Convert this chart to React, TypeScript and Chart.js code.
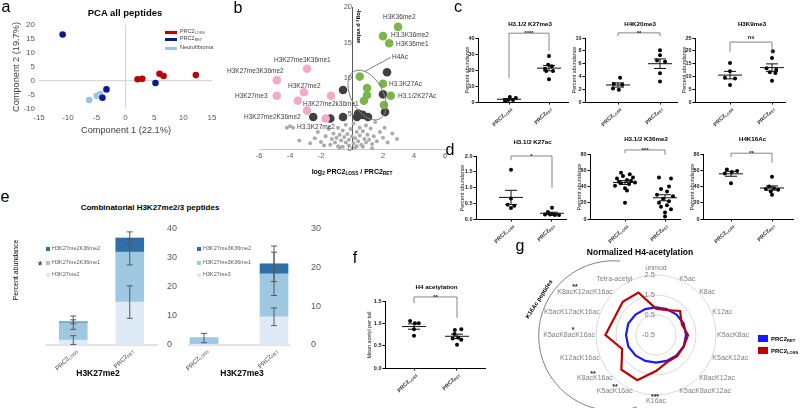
import React, { useEffect, useRef } from 'react';
import { Chart, registerables } from 'chart.js';

Chart.register(...registerables);

const FONT = '"Liberation Sans", Arial, Helvetica, sans-serif';

// ================= DATA =================
// a: PCA all peptides
const pcaLossX = [2.1, 2.9, 5.9, 6.6, 12.2];
const pcaLossY = [0.6, 0.8, 2.6, 1.8, 2.1];
const pcaRetX = [-10.9, -3.3, -4.0, 5.2];
const pcaRetY = [16.6, -3.0, -6.0, -0.7];
const pcaNfX = [-6.3, -5.0, -4.4];
const pcaNfY = [-6.8, -5.3, -4.7];

// b: volcano
const volGreenX = [2.97, 2.0, 2.4, 0.5, 2.0, 0.97, 0.97, 2.5, 0.77, 2.06];
const volGreenY = [17.2, 15.9, 14.9, 10.2, 9.2, 8.6, 7.6, 7.5, 6.8, 6.2];
const volPinkX = [-2.9, -4.85, -4.85, -3.1, -3.5, -1.36, -2.9, -1.7];
const volPinkY = [11.3, 9.7, 7.5, 8.0, 6.8, 7.5, 5.4, 4.3];
const volDarkX = [2.26, -0.58, 2.0, 2.13, -0.58, 0.32, 0.7, 1.03, 0.4, -1.4, -2.5];
const volDarkY = [10.8, 8.3, 7.7, 5.2, 4.5, 4.5, 4.8, 4.5, 5.0, 4.3, 4.5];
const volGreyX = [-4.2, -4.0, -3.8, -3.4, -2.4, -2.2, -2.0, -1.7, -1.5, -1.4, -1.3, -1.2, -1.1, -1.0, -0.9, -0.9, -0.8, -0.7, -0.6, -0.6, -0.5, -0.4, -0.4, -0.3, -0.2, -0.2, -0.1, 0.0, 0.1, 0.1, 0.2, 0.3, 0.3, 0.4, 0.5, 0.5, 0.6, 0.7, 0.8, 0.9, 0.9, 1.0, 1.1, 1.2, 1.3, 1.4, 1.5, 1.6, 1.8, 2.0, 2.1, 2.3, 2.6, 2.9, -1.8, -0.8, 0.2, 0.7, 1.3, -2.7];
const volGreyY = [3.0, 3.2, 3.0, 1.2, 1.5, 2.4, 1.0, 1.8, 2.8, 0.6, 1.4, 2.2, 0.9, 1.6, 3.0, 0.4, 2.0, 1.2, 2.6, 0.3, 1.7, 0.9, 3.4, 2.1, 1.3, 0.5, 2.8, 1.8, 0.8, 3.6, 1.5, 2.4, 0.4, 1.1, 3.0, 1.9, 0.6, 2.5, 1.4, 3.3, 0.9, 2.0, 1.3, 2.9, 0.7, 1.8, 3.8, 1.1, 2.4, 1.6, 3.0, 0.9, 2.2, 1.4, 0.5, 0.2, 0.2, 0.3, 0.1, 0.8];
const volH4AcEllipse = [0.97, 7.6];
const volH4AcLeader = [0.8, 10.9, 2.5, 12.9];

// c/d/f: scatter dot plots (values, horizontal spread in category units)
const groupSubs = ['LOSS', 'RET'];
const k27me3Loss = [0.6, 1.2, 1.2, 3.1, 2.5];
const k27me3LossJit = [-0.1, -0.02, 0.1, 0.02, 0.17];
const k27me3Ret = [28.7, 23.3, 22.3, 20.8, 19.4, 19.4, 14.2];
const k27me3RetJit = [0, -0.02, 0.07, -0.1, 0.1, -0.07, 0];
const k27me3Bracket = [43, 15, 32];
const k20me3Loss = [3.8, 2.8, 2.7, 2.1, 1.9];
const k20me3LossJit = [0.05, -0.1, 0.1, -0.12, 0.02];
const k20me3Ret = [8.1, 7.3, 6.5, 6.3, 4.5, 3.2];
const k20me3RetJit = [0, 0, -0.07, 0.12, 0, 0];
const k20me3Bracket = [10.8, 10.3, 10.3];
const k9me3Loss = [15.2, 12.0, 9.5, 9.2, 6.6];
const k9me3LossJit = [0, 0, -0.12, 0.12, 0];
const k9me3Ret = [19.8, 17.2, 13.2, 12.6, 11.6, 11.3, 8.3];
const k9me3RetJit = [0.02, 0, -0.13, 0.1, -0.05, 0.08, 0];
const k9me3Bracket = [23.4, 19.5, 18.9];
const k27acLoss = [1.56, 0.65, 0.45, 0.42, 0.35];
const k27acLossJit = [0, 0, -0.08, 0.08, 0];
const k27acRet = [0.36, 0.22, 0.16, 0.14, 0.14, 0.13, 0.13];
const k27acRetJit = [0, -0.1, 0, -0.17, -0.05, 0.07, 0.17];
const k27acBracket = [2.0, 1.87, 0.98];
const k36me2Loss = [57, 55, 53, 51, 50, 48, 47, 46, 45, 44, 43, 41, 38, 35, 20];
const k36me2LossJit = [-0.1, 0.12, -0.05, 0.2, -0.2, 0.05, 0.15, -0.15, 0.25, -0.1, 0.1, -0.25, 0, 0.05, 0];
const k36me2Ret = [51, 50, 40, 37, 34, 30, 28, 25, 22, 20, 17, 15, 12, 8, 3];
const k36me2RetJit = [-0.15, 0.15, 0.1, -0.1, 0.05, -0.2, 0.2, -0.05, 0.1, -0.15, 0.05, -0.1, 0.15, 0, 0];
const k36me2Bracket = [85, 81, 79];
const k16acLoss = [61, 59, 58, 56, 44];
const k16acLossJit = [-0.1, 0.15, 0.02, -0.15, 0];
const k16acRet = [52, 40, 38, 37, 36, 34, 30];
const k16acRetJit = [0, -0.07, 0.05, -0.15, 0.15, -0.03, 0];
const k16acBracket = [81, 76, 69];
const h4acLoss = [1.05, 1.0, 1.0, 0.87, 0.72];
const h4acLossJit = [-0.09, 0.02, 0.11, 0, 0];
const h4acRet = [0.87, 0.85, 0.76, 0.68, 0.66, 0.63, 0.52];
const h4acRetJit = [0.1, -0.05, -0.06, 0.03, -0.1, 0.1, 0];
const h4acBracket = [1.59, 1.45, 1.12];

// e: combinatorial stacked bars
const eCats = ['PRC2LOSS', 'PRC2RET'];
const me2Base = [1.7, 14.8];
const me2K36me1 = [6.0, 17.2];
const me2K36me2 = [0.3, 4.9];
const me2BaseErr = [1.5, 5.6];
const me2K36me1Err = [2.3, 4.4];
const me2K36me2Err = [0.7, 2.1];
const me3Base = [0.2, 7.3];
const me3K36me1 = [1.6, 11.1];
const me3K36me2 = [0, 2.6];
const me3BaseErr = [0, 2.3];
const me3K36me1Err = [1.2, 5.6];
const me3K36me2Err = [0, 4.6];

// g: normalized H4 acetylation radar
const h4Sites = ['unmod', 'K5ac', 'K8ac', 'K12ac', 'K5acK8ac', 'K5acK12ac', 'K8acK12ac', 'K5acK8acK12ac', 'K16ac', 'K5acK16ac', 'K8acK16ac', 'K12acK16ac', 'K5acK8acK16ac', 'K5acK12acK16ac', 'K8acK12acK16ac', 'Tetra-acetyl'];
const h4Loss = [0.82, 0.85, 1.2, 0.9, 1.1, 1.0, 1.0, 0.97, 1.3, 1.95, 1.95, 1.33, 2.03, 1.75, 1.85, 1.8];
const h4Ret = [0.88, 0.9, 0.95, 1.0, 1.0, 1.0, 0.95, 0.9, 0.88, 0.9, 0.95, 1.0, 1.0, 1.0, 0.95, 0.9];
const h4Ticks = [-0.5, 0.5, 1.5, 2.5];

// ================= HELPERS =================
const zip = (xs: number[], ys: number[]) => xs.map((x, i) => ({ x, y: ys[i] }));
const mean = (a: number[]) => a.reduce((s, v) => s + v, 0) / a.length;
const sem = (a: number[]) => {
  const m = mean(a);
  return Math.sqrt(a.reduce((s, v) => s + (v - m) ** 2, 0) / (a.length - 1)) / Math.sqrt(a.length);
};
// fix an axis box to an exact size (so the plot area is placed exactly)
const fix = (n: number) => (s: any) => {
  if (s.isHorizontal()) s.height = n; else s.width = n;
  s.paddingLeft = 0; s.paddingRight = 0; s.paddingTop = 0; s.paddingBottom = 0;
};
const baseOptions = (pad: any) => ({
  responsive: false,
  animation: false,
  devicePixelRatio: 1,
  events: [],
  layout: { padding: pad },
  plugins: { legend: { display: false }, tooltip: { enabled: false }, title: { display: false } },
});
const noGrid = { display: false, drawTicks: false };

function drawSub(ctx: any, x: number, y: number, main: string, sub: string, size: number, weight: string, color: string, align: string, angle: number) {
  ctx.save();
  ctx.translate(x, y);
  ctx.rotate(angle);
  const f1 = `${weight} ${size}px ${FONT}`;
  const f2 = `${weight} ${size * 0.68}px ${FONT}`;
  ctx.font = f1; const w1 = ctx.measureText(main).width;
  ctx.font = f2; const w2 = ctx.measureText(sub).width;
  const tw = w1 + w2;
  const x0 = align === 'left' ? 0 : align === 'right' ? -tw : -tw / 2;
  ctx.fillStyle = color; ctx.textAlign = 'left'; ctx.textBaseline = 'middle';
  ctx.font = f1; ctx.fillText(main, x0, 0);
  ctx.font = f2; ctx.fillText(sub, x0 + w1, size * 0.28);
  ctx.restore();
}

function ChartCanvas({ x, y, w, h, make }: any) {
  const ref = useRef<HTMLCanvasElement>(null);
  useEffect(() => {
    const chart = new Chart(ref.current as HTMLCanvasElement, make());
    return () => chart.destroy();
  }, []);
  return <canvas ref={ref} width={w} height={h} style={{ position: 'absolute', left: x, top: y, width: w, height: h }} />;
}

function T({ x, y, s, b, c = '#000', a = 'c', r = 0, children }: any) {
  const tx = a === 'l' ? '0%' : a === 'r' ? '-100%' : '-50%';
  const ox = a === 'l' ? '0%' : a === 'r' ? '100%' : '50%';
  return (
    <div style={{ position: 'absolute', left: x, top: y, transform: `translate(${tx},-50%) rotate(${r}deg)`, transformOrigin: `${ox} 50%`, fontSize: s, fontWeight: b ? 'bold' : 'normal', color: c, whiteSpace: 'nowrap', lineHeight: 1, fontFamily: FONT }}>
      {children}
    </div>
  );
}
const Sb = ({ children }: any) => <span style={{ fontSize: '68%', position: 'relative', top: '0.3em' }}>{children}</span>;
const Box = ({ x, y, w, h, c }: any) => <div style={{ position: 'absolute', left: x, top: y, width: w, height: h, background: c }} />;

// ================= a =================
const RED = '#c00000';
const NAVY = '#0d1a8c';
const LIGHTB = '#9dc3e6';
const zeroGrid = (c: any) => (c.tick && c.tick.value === 0 ? '#d9d9d9' : 'rgba(0,0,0,0)');
const makePca = () => ({
  type: 'scatter',
  data: {
    datasets: [
      { data: zip(pcaLossX, pcaLossY), backgroundColor: RED, pointRadius: 3.3, borderWidth: 0 },
      { data: zip(pcaRetX, pcaRetY), backgroundColor: NAVY, pointRadius: 3.3, borderWidth: 0 },
      { data: zip(pcaNfX, pcaNfY), backgroundColor: LIGHTB, pointRadius: 3.3, borderWidth: 0 },
    ],
  },
  options: {
    ...baseOptions({ left: 0, right: 3, top: 11, bottom: 0 }),
    scales: {
      x: { type: 'linear', min: -15, max: 15, afterFit: fix(25), border: { display: false },
        ticks: { stepSize: 5, autoSkip: false, maxRotation: 0, padding: 4, color: '#595959', font: { family: FONT, size: 8 } },
        grid: { color: zeroGrid, lineWidth: 1.2, drawTicks: false } },
      y: { type: 'linear', min: -10, max: 20, afterFit: fix(39), border: { display: false },
        ticks: { stepSize: 5, autoSkip: false, padding: 4, color: '#595959', font: { family: FONT, size: 8 } },
        grid: { color: zeroGrid, lineWidth: 1.2, drawTicks: false } },
    },
  },
});

// ================= b =================
const volPlugin = {
  id: 'volExtras',
  afterDatasetsDraw(chart: any) {
    const { ctx, scales: { x, y } } = chart;
    ctx.save();
    ctx.strokeStyle = '#808080';
    ctx.lineWidth = 1;
    ctx.beginPath();
    ctx.ellipse(x.getPixelForValue(volH4AcEllipse[0]), y.getPixelForValue(volH4AcEllipse[1]), 16, 27, -0.5, 0, Math.PI * 2);
    ctx.stroke();
    ctx.beginPath();
    ctx.moveTo(x.getPixelForValue(volH4AcLeader[0]), y.getPixelForValue(volH4AcLeader[1]));
    ctx.lineTo(x.getPixelForValue(volH4AcLeader[2]), y.getPixelForValue(volH4AcLeader[3]));
    ctx.stroke();
    ctx.restore();
  },
};
const makeVolcano = () => ({
  type: 'scatter',
  data: {
    datasets: [
      { data: zip(volGreenX, volGreenY), backgroundColor: '#7ab648', pointRadius: 4.3, borderWidth: 0, clip: false },
      { data: zip(volPinkX, volPinkY), backgroundColor: '#f2a9cb', pointRadius: 4.3, borderWidth: 0, clip: false },
      { data: zip(volDarkX, volDarkY), backgroundColor: '#404040', pointRadius: 4.3, borderWidth: 0, clip: false },
      { data: zip(volGreyX, volGreyY), backgroundColor: '#ababab', pointRadius: 2, borderWidth: 0, clip: false },
    ],
  },
  options: {
    ...baseOptions({ left: 37, right: 7, top: 7, bottom: 0 }),
    scales: {
      x: { type: 'linear', min: -6, max: 6, afterFit: fix(51),
        border: { display: true, color: '#c8c8c8', width: 1 },
        ticks: { stepSize: 2, autoSkip: false, maxRotation: 0, padding: 2, color: '#595959', font: { family: FONT, size: 7.5 }, callback: (v: any) => (v === 0 ? '' : String(v)) },
        grid: noGrid },
      y: { type: 'linear', min: 0, max: 20, position: { x: 0 }, afterFit: fix(0),
        border: { display: true, color: '#595959', width: 1 },
        ticks: { stepSize: 5, autoSkip: false, padding: 4, color: '#595959', font: { family: FONT, size: 7.5 } },
        grid: noGrid },
    },
  },
  plugins: [volPlugin],
});

// ================= c/d/f dot plots =================
function dotPlugin(c: any) {
  return {
    id: 'dotExtras',
    afterDatasetsDraw(chart: any) {
      const { ctx, scales: { x, y } } = chart;
      ctx.save();
      ctx.strokeStyle = '#111';
      ctx.lineWidth = 1;
      [c.loss, c.ret].forEach((vals: number[], g: number) => {
        const m = mean(vals), e = sem(vals);
        const px = x.getPixelForValue(g);
        const ym = y.getPixelForValue(m), y1 = y.getPixelForValue(m + e), y0 = y.getPixelForValue(m - e);
        ctx.beginPath();
        ctx.moveTo(px - 12, ym); ctx.lineTo(px + 12, ym);
        ctx.moveTo(px, y0); ctx.lineTo(px, y1);
        ctx.moveTo(px - 6, y1); ctx.lineTo(px + 6, y1);
        ctx.moveTo(px - 6, y0); ctx.lineTo(px + 6, y0);
        ctx.stroke();
      });
      const [top, le, re] = c.bracket;
      const xa = x.getPixelForValue(0), xb = x.getPixelForValue(1), yt = y.getPixelForValue(top);
      ctx.strokeStyle = '#666';
      ctx.lineWidth = 0.8;
      ctx.beginPath();
      ctx.moveTo(xa, y.getPixelForValue(le)); ctx.lineTo(xa, yt); ctx.lineTo(xb, yt); ctx.lineTo(xb, y.getPixelForValue(re));
      ctx.stroke();
      ctx.fillStyle = '#222';
      ctx.font = `bold 6px ${FONT}`;
      ctx.textAlign = 'center';
      ctx.textBaseline = 'alphabetic';
      ctx.fillText(c.sig, (xa + xb) / 2, c.sig === 'ns' ? yt - 3 : yt + 2);
      groupSubs.forEach((s, i) => drawSub(ctx, x.getPixelForValue(i) + 2, chart.chartArea.bottom + 6, 'PRC2', s, 5.5, 'bold', '#333', 'right', -Math.PI / 4));
      ctx.restore();
    },
  };
}
const makeDot = (c: any) => () => {
  const unit = c.catX[1] - c.catX[0];
  return {
    type: 'scatter',
    data: {
      datasets: [{
        data: [...c.loss.map((v: number, i: number) => ({ x: c.lossJ[i], y: v })), ...c.ret.map((v: number, i: number) => ({ x: 1 + c.retJ[i], y: v }))],
        backgroundColor: '#000', pointRadius: 2, borderWidth: 0, clip: false,
      }],
    },
    options: {
      ...baseOptions({ left: 0, right: 15, top: 35, bottom: 0 }),
      scales: {
        x: { type: 'linear', min: -(c.catX[0] - c.axisX) / unit, max: (c.rightX - c.catX[0]) / unit, afterFit: fix(30),
          afterBuildTicks: (s: any) => { s.ticks = [{ value: 0 }, { value: 1 }]; },
          border: { display: true, color: '#000', width: 1 },
          ticks: { display: false },
          grid: { display: true, drawOnChartArea: false, drawTicks: true, tickLength: 2.5, color: '#000' } },
        y: { type: 'linear', min: 0, max: c.max, afterFit: fix(30),
          border: { display: true, color: '#000', width: 1 },
          ticks: { stepSize: c.step, autoSkip: false, padding: 1, color: '#222', font: { family: FONT, size: 5.5, weight: 'bold' }, callback: (v: any) => Number(v).toFixed(c.dec) },
          grid: { display: true, drawOnChartArea: false, drawTicks: true, tickLength: 2.5, color: '#000' } },
      },
    },
    plugins: [dotPlugin(c)],
  };
};

const dotPlots = [
  { title: 'H3.1/2 K27me3', ty: 24, axisX: 478, zeroY: 102, topY: 38, rightX: 568, catX: [509, 549], max: 40, step: 10, dec: 0, loss: k27me3Loss, lossJ: k27me3LossJit, ret: k27me3Ret, retJ: k27me3RetJit, bracket: k27me3Bracket, sig: '****', yTitle: 'Percent abundance', yt: 10 },
  { title: 'H4K20me3', ty: 24, axisX: 585, zeroY: 102, topY: 38, rightX: 677, catX: [618, 660], max: 10, step: 2, dec: 0, loss: k20me3Loss, lossJ: k20me3LossJit, ret: k20me3Ret, retJ: k20me3RetJit, bracket: k20me3Bracket, sig: '**', yTitle: 'Percent abundance', yt: 10 },
  { title: 'H3K9me3', ty: 24, axisX: 695, zeroY: 102, topY: 38, rightX: 785, catX: [730, 772], max: 25, step: 5, dec: 0, loss: k9me3Loss, lossJ: k9me3LossJit, ret: k9me3Ret, retJ: k9me3RetJit, bracket: k9me3Bracket, sig: 'ns', yTitle: 'Percent abundance', yt: 10 },
  { title: 'H3.1/2 K27ac', ty: 142, axisX: 476, zeroY: 219, topY: 156, rightX: 566, catX: [511, 552], max: 2, step: 0.5, dec: 1, loss: k27acLoss, lossJ: k27acLossJit, ret: k27acRet, retJ: k27acRetJit, bracket: k27acBracket, sig: '*', yTitle: 'Percent abundance', yt: 13 },
  { title: 'H3.1/2 K36me2', ty: 139, axisX: 590, zeroY: 219, topY: 154, rightX: 680, catX: [625, 665], max: 80, step: 20, dec: 0, loss: k36me2Loss, lossJ: k36me2LossJit, ret: k36me2Ret, retJ: k36me2RetJit, bracket: k36me2Bracket, sig: '***', yTitle: 'Percent abundance', yt: 10 },
  { title: 'H4K16Ac', ty: 139, axisX: 703, zeroY: 219, topY: 154, rightX: 793, catX: [731, 772], max: 80, step: 20, dec: 0, loss: k16acLoss, lossJ: k16acLossJit, ret: k16acRet, retJ: k16acRetJit, bracket: k16acBracket, sig: '**', yTitle: 'Percent abundance', yt: 10 },
  { title: 'H4 acetylation', ty: 287, axisX: 385, zeroY: 368, topY: 301, rightX: 485, catX: [414, 457], max: 1.5, step: 0.5, dec: 1, loss: h4acLoss, lossJ: h4acLossJit, ret: h4acRet, retJ: h4acRetJit, bracket: h4acBracket, sig: '**', yTitle: 'Mean acetyl per tail', yt: 15 },
];

// ================= e =================
const E_DARK = '#2f6ea7';
const E_MED = '#9ec8e1';
const E_LIGHT = '#deebf7';
function barPlugin(errs: number[][], ext: number) {
  return {
    id: 'barExtras',
    beforeDatasetsDraw(chart: any) {
      const { ctx, scales: { x, y } } = chart;
      const bars = chart.getDatasetMeta(0).data;
      const half = bars[0].width / 2;
      const yb = y.getPixelForValue(0);
      ctx.save();
      ctx.strokeStyle = '#d9d9d9';
      ctx.lineWidth = 1.5;
      ctx.beginPath();
      ctx.moveTo(x.getPixelForValue(0) - half - ext, yb);
      ctx.lineTo(x.getPixelForValue(eCats.length - 1) + half + ext, yb);
      ctx.stroke();
      ctx.restore();
    },
    afterDatasetsDraw(chart: any) {
      const { ctx, scales: { x, y } } = chart;
      const ds = chart.data.datasets;
      ctx.save();
      ctx.strokeStyle = '#595959';
      ctx.lineWidth = 1;
      for (let j = 0; j < eCats.length; j++) {
        let cum = 0;
        const px = x.getPixelForValue(j);
        ds.forEach((d: any, i: number) => {
          cum += d.data[j];
          const e = errs[i][j];
          if (e > 0) {
            const y1 = y.getPixelForValue(cum + e), y0 = y.getPixelForValue(Math.max(cum - e, 0));
            ctx.beginPath();
            ctx.moveTo(px, y0); ctx.lineTo(px, y1);
            ctx.moveTo(px - 3, y1); ctx.lineTo(px + 3, y1);
            ctx.moveTo(px - 3, y0); ctx.lineTo(px + 3, y0);
            ctx.stroke();
          }
        });
        drawSub(ctx, px + 3, y.getPixelForValue(0) + 5, 'PRC2', groupSubs[j], 6.2, 'normal', '#404040', 'right', -Math.PI / 4);
      }
      ctx.restore();
    },
  };
}
const makeBars = (base: number[], mid: number[], top: number[], errs: number[][], max: number, pad: any, axisW: number, tickPad: number, ext: number) => () => ({
  type: 'bar',
  data: {
    labels: eCats,
    datasets: [
      { data: base, backgroundColor: E_LIGHT, borderWidth: 0, barThickness: 28 },
      { data: mid, backgroundColor: E_MED, borderWidth: 0, barThickness: 28 },
      { data: top, backgroundColor: E_DARK, borderWidth: 0, barThickness: 28 },
    ],
  },
  options: {
    ...baseOptions(pad),
    scales: {
      x: { stacked: true, afterFit: fix(35), border: { display: false }, grid: noGrid, ticks: { display: false } },
      y: { stacked: true, position: 'right', min: 0, max, afterFit: fix(axisW), border: { display: false }, grid: noGrid,
        ticks: { stepSize: 10, autoSkip: false, padding: tickPad, color: '#595959', font: { family: FONT, size: 9 } } },
    },
  },
  plugins: [barPlugin(errs, ext)],
});

// ================= g =================
const radarPlugin = {
  id: 'radarText',
  beforeDatasetsDraw(chart: any) {
    const r = chart.scales.r;
    const ctx = chart.ctx;
    ctx.save();
    ctx.font = `7.5px ${FONT}`;
    ctx.fillStyle = '#7f7f7f';
    ctx.textAlign = 'right';
    ctx.textBaseline = 'middle';
    h4Ticks.forEach((v) => ctx.fillText(v.toFixed(1), r.xCenter - 1, r.yCenter - r.getDistanceFromCenterForValue(v)));
    ctx.restore();
  },
  afterDraw(chart: any) {
    const r = chart.scales.r;
    const ctx = chart.ctx;
    const R = r.drawingArea;
    ctx.save();
    ctx.font = `7px ${FONT}`;
    ctx.fillStyle = '#7f7f7f';
    h4Sites.forEach((lab, i) => {
      const a = (i * 2 * Math.PI) / h4Sites.length;
      const s = Math.sin(a), c = Math.cos(a);
      const vertical = Math.abs(c) > 0.99;
      const p = r.getPointPosition(i, R + (vertical ? 3 : 1));
      ctx.textAlign = Math.abs(s) < 0.01 ? 'center' : s > 0 ? 'left' : 'right';
      ctx.textBaseline = c > 0.99 ? 'bottom' : c < -0.99 ? 'top' : 'middle';
      ctx.fillText(lab, p.x, p.y);
    });
    ctx.restore();
  },
};
const makeRadar = () => ({
  type: 'radar',
  data: {
    labels: h4Sites,
    datasets: [
      { label: 'PRC2LOSS', data: h4Loss, borderColor: RED, borderWidth: 2.2, pointRadius: 0, fill: false },
      { label: 'PRC2RET', data: h4Ret, borderColor: '#1a1aff', borderWidth: 2.2, pointRadius: 0, fill: false },
    ],
  },
  options: {
    ...baseOptions({ left: 66, right: 44, top: 20, bottom: 13 }),
    scales: {
      r: {
        min: -0.5, max: 2.5,
        ticks: { display: false, stepSize: 1, showLabelBackdrop: false },
        grid: { circular: true, color: '#d9d9d9', lineWidth: 1 },
        angleLines: { display: false },
        pointLabels: { display: false },
      },
    },
  },
  plugins: [radarPlugin],
});

// ================= layout text =================
const volLabels: [string, number, number][] = [
  ['H3K36me2', 383, 17], ['H3.3K36me2', 391, 35], ['H3K36me1', 396, 44], ['H4Ac', 392, 57],
  ['H3.3K27Ac', 389, 84], ['H3.1/2K27Ac', 398, 96], ['H3K27me3K36me1', 274, 60], ['H3K27me3K36me2', 227, 71],
  ['H3K27me3', 235, 96], ['H3K27me2', 288, 86], ['H3K27me2k36me1', 303, 104], ['H3K27me2K36me2', 244, 117],
  ['H3.3K27me2', 297, 127],
];
const radarStars: [string, number, number][] = [
  ['**', 575, 286], ['*', 573, 329], ['**', 593, 373], ['**', 615, 386], ['***', 655, 396],
];

export default function App() {
  return (
    <div style={{ position: 'fixed', left: 0, top: 0, width: 800, height: 408, background: '#fff', overflow: 'hidden', fontFamily: FONT }}>
      {/* charts */}
      <ChartCanvas x={0} y={14} w={216} h={120} make={makePca} />
      <ChartCanvas x={222} y={0} w={230} h={200} make={makeVolcano} />
      {dotPlots.map((c, i) => (
        <ChartCanvas key={i} x={c.axisX - 30} y={c.topY - 35} w={c.rightX - c.axisX + 45} h={c.zeroY - c.topY + 65} make={makeDot(c)} />
      ))}
      <ChartCanvas x={40} y={215} w={160} h={165} make={makeBars(me2Base, me2K36me1, me2K36me2, [me2BaseErr, me2K36me1Err, me2K36me2Err], 40, { left: 5, right: 0, top: 14, bottom: 0 }, 42, 9, 14)} />
      <ChartCanvas x={165} y={215} w={170} h={165} make={makeBars(me3Base, me3K36me1, me3K36me2, [me3BaseErr, me3K36me1Err, me3K36me2Err], 30, { left: 4, right: 0, top: 14, bottom: 0 }, 26, 2, 2)} />
      <ChartCanvas x={530} y={255} w={230} h={153} make={makeRadar} />

      {/* panel letters */}
      <T x={6} y={7} s={16}>a</T>
      <T x={238} y={8} s={16}>b</T>
      <T x={458} y={7} s={16}>c</T>
      <T x={450} y={150} s={16}>d</T>
      <T x={5} y={197} s={16}>e</T>
      <T x={355} y={258} s={16}>f</T>
      <T x={520} y={246} s={16}>g</T>

      {/* a */}
      <T x={125} y={13} s={9.5} b>PCA all peptides</T>
      <T x={17} y={67} s={9.2} c="#404040" r={-90}>Component 2 (19.7%)</T>
      <T x={126} y={131} s={9.2} c="#404040">Component 1 (22.1%)</T>
      <Box x={165} y={30.5} w={12} h={3} c={RED} />
      <Box x={165} y={37.5} w={12} h={3} c={NAVY} />
      <Box x={165} y={46.5} w={12} h={3} c={LIGHTB} />
      <T x={180} y={31.5} s={5.5} a="l" c="#404040">PRC2<Sb>LOSS</Sb></T>
      <T x={180} y={38.5} s={5.5} a="l" c="#404040">PRC2<Sb>RET</Sb></T>
      <T x={180} y={47.5} s={5.5} a="l" c="#404040">Neurofibroma</T>

      {/* b */}
      {volLabels.map(([t, x, y], i) => (
        <T key={i} x={x} y={y} s={6.5} a="l" c="#404040">{t}</T>
      ))}
      <T x={358} y={26} s={5.8} b r={90}>-log<Sb>2</Sb> p value</T>
      <T x={352} y={172} s={7} b>log<Sb>2</Sb> PRC2<Sb>LOSS</Sb> / PRC2<Sb>RET</Sb></T>

      {/* c/d/f titles */}
      {dotPlots.map((c, i) => (
        <React.Fragment key={i}>
          <T x={(c.catX[0] + c.catX[1]) / 2 + 1} y={c.ty} s={6.2} b>{c.title}</T>
          <T x={c.axisX - c.yt} y={(c.zeroY + c.topY) / 2} s={5.4} r={-90} c="#222">{c.yTitle}</T>
        </React.Fragment>
      ))}

      {/* e */}
      <T x={150} y={208} s={8} b>Combinatorial H3K27me2/3 peptides</T>
      <T x={15} y={270} s={7} r={-90}>Percent abundance</T>
      <Box x={46} y={247} w={4} h={4} c={E_DARK} />
      <Box x={46} y={261} w={4} h={4} c={E_MED} />
      <Box x={46} y={273} w={4} h={4} c={E_LIGHT} />
      <T x={52} y={249} s={5.5} a="l" c="#595959">H3K27me2K36me2</T>
      <T x={52} y={263} s={5.5} a="l" c="#595959">H3K27me2K36me1</T>
      <T x={52} y={275} s={5.5} a="l" c="#595959">H3K27me2</T>
      <T x={40} y={266} s={12}>*</T>
      <Box x={197} y={247} w={4} h={4} c={E_DARK} />
      <Box x={197} y={261} w={4} h={4} c={E_MED} />
      <Box x={197} y={273} w={4} h={4} c={E_LIGHT} />
      <T x={203} y={249} s={5.5} a="l" c="#595959">H3K27me3K36me2</T>
      <T x={203} y={263} s={5.5} a="l" c="#595959">H3K27me3K36me1</T>
      <T x={203} y={275} s={5.5} a="l" c="#595959">H3K27me3</T>
      <T x={98} y={373} s={8.5} b>H3K27me2</T>
      <T x={242} y={373} s={8.5} b>H3K27me3</T>

      {/* g */}
      <T x={640} y={252} s={8.5} b>Normalized H4-acetylation</T>
      <svg width={800} height={408} style={{ position: 'absolute', left: 0, top: 0, pointerEvents: 'none' }}>
        <path d="M 620 261 A 75 75 0 1 0 637 407" fill="none" stroke="#808080" strokeWidth={1} />
      </svg>
      <T x={539} y={299} s={6} b r={-57}>K16Ac peptides</T>
      {radarStars.map(([t, x, y], i) => (
        <T key={i} x={x} y={y} s={7} b c="#222">{t}</T>
      ))}
      <Box x={758} y={335} w={10} h={7} c="#1a1aff" />
      <Box x={758} y={347} w={10} h={7} c={RED} />
      <T x={771} y={338.5} s={6} b a="l">PRC2<Sb>RET</Sb></T>
      <T x={771} y={350.5} s={6} b a="l">PRC2<Sb>LOSS</Sb></T>
    </div>
  );
}
